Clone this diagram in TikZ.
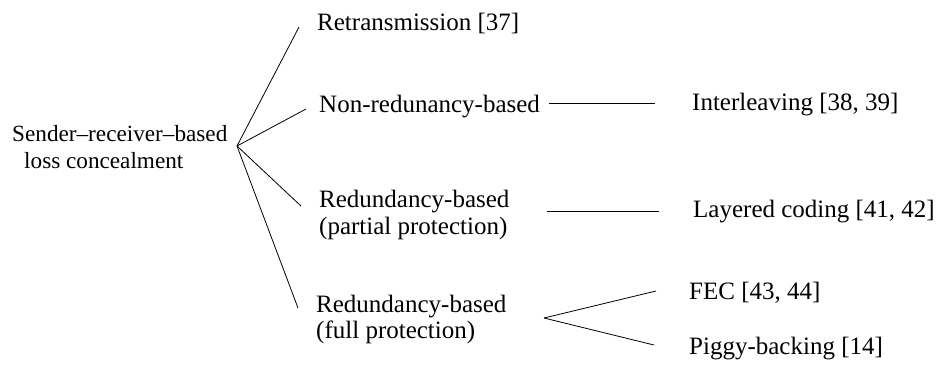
\documentclass[tikz,border=0pt]{standalone}
\usepackage{fontspec}
\setmainfont{Liberation Serif}
\begin{document}
\begin{tikzpicture}[x=1pt,y=-1pt,
  lbl/.style={anchor=base west,inner sep=0pt,font=\fontsize{25}{27}\selectfont},
  rootlbl/.style={anchor=base west,inner sep=0pt,font=\fontsize{23.2}{26}\selectfont},
  branch/.style={draw=black,line width=0.8pt}]
\useasboundingbox (0,0) rectangle (942,365);

% root
\node[rootlbl] (root1) at (12,141) {Sender–receiver–based};
\node[rootlbl] (root2) at (24,168) {loss concealment};
\coordinate (hub) at (237,146);

% first level
\node[lbl] (ret)  at (317,30)  {Retransmission [37]};
\node[lbl] (nonr) at (319,112) {Non-redunancy-based};
\node[lbl] (part1) at (319,207) {Redundancy-based};
\node[lbl] (part2) at (319,234) {(partial protection)};
\node[lbl] (full1) at (316,312) {Redundancy-based};
\node[lbl] (full2) at (316,338) {(full protection)};

% second level
\node[lbl] (intl) at (692,110) {Interleaving [38, 39]};
\node[lbl] (layc) at (693,217) {Layered coding [41, 42]};
\node[lbl] (fec)  at (689,299) {FEC [43, 44]};
\node[lbl] (pigg) at (689,354) {Piggy-backing [14]};

% connector ends
\coordinate (retE)  at (299,27);
\coordinate (nonrE) at (306,109);
\coordinate (partE) at (301,206);
\coordinate (fullE) at (298,308);
\coordinate (intlA) at (549,103);
\coordinate (intlB) at (655,103);
\coordinate (laycA) at (547,211);
\coordinate (laycB) at (659,211);
\coordinate (fork)  at (544,318);
\coordinate (fecE)  at (656,291);
\coordinate (piggE) at (654,345);

% connectors
\draw[branch] (hub) -- (retE);
\draw[branch] (hub) -- (nonrE);
\draw[branch] (hub) -- (partE);
\draw[branch] (hub) -- (fullE);
\draw[branch] (intlA) -- (intlB);
\draw[branch] (laycA) -- (laycB);
\draw[branch] (fork) -- (fecE);
\draw[branch] (fork) -- (piggE);
\end{tikzpicture}
\end{document}
